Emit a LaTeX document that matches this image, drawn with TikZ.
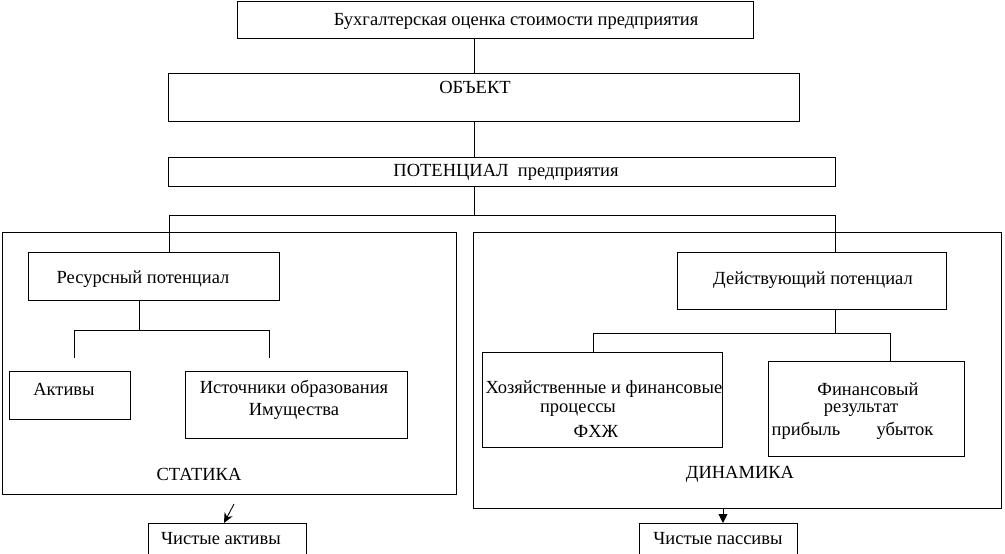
\documentclass[tikz,border=0pt]{standalone}
\usepackage{fontspec}
\setmainfont{Liberation Serif}
\usetikzlibrary{arrows.meta}
\begin{document}
\begin{tikzpicture}[x=1pt,y=-1pt,
  box/.style={draw, line width=0.9pt, inner sep=0pt, anchor=north west},
  txt/.style={inner sep=0pt, font=\fontsize{18.5}{22}\selectfont},
  conn/.style={line width=0.9pt}]
\useasboundingbox (0,0) rectangle (1005,554);
% frames
\node[box, minimum width=454pt, minimum height=262pt] (stat) at (2,232) {};
\node[box, minimum width=528pt, minimum height=276pt] (dyn) at (473,232) {};
% top chain
\node[box, minimum width=516pt, minimum height=37pt] (top) at (237,1) {};
\node[txt] (ttop) at (516,21) {Бухгалтерская оценка стоимости предприятия};
\node[box, minimum width=631pt, minimum height=48pt] (obj) at (168,73) {};
\node[txt] (tobj) at (475,87) {ОБЪЕКТ};
\node[box, minimum width=667pt, minimum height=29pt] (pot) at (168,157) {};
\node[txt] (tpot) at (506,172) {ПОТЕНЦИАЛ\ \ предприятия};
% left side
\node[box, minimum width=251pt, minimum height=48pt] (res) at (28,252) {};
\node[txt] (tres) at (143,279) {Ресурсный потенциал};
\node[box, minimum width=121pt, minimum height=48pt] (akt) at (9,371) {};
\node[txt] (takt) at (64,389) {Активы};
\node[box, minimum width=222pt, minimum height=67pt] (ist) at (185,371) {};
\node[txt, align=center] (tist) at (294,400) {Источники образования\\Имущества};
\node[txt] (tstat) at (199,474) {СТАТИКА};
\node[box, minimum width=158pt, minimum height=32pt] (ca) at (148,523) {};
\node[txt] (tca) at (221,539) {Чистые активы};
% right side
\node[box, minimum width=269pt, minimum height=57pt] (dact) at (677,252) {};
\node[txt] (tdact) at (813,280) {Действующий потенциал};
\node[box, minimum width=240pt, minimum height=95pt] (hoz) at (482,352) {};
\node[txt] (thoz1) at (604,389) {Хозяйственные и финансовые};
\node[txt] (thoz2) at (578,410) {процессы};
\node[txt] (thoz3) at (596,431) {ФХЖ};
\node[box, minimum width=196pt, minimum height=95pt] (fin) at (768,361) {};
\node[txt] (tfin1) at (868,389) {Финансовый};
\node[txt] (tfin2) at (861,410) {результат};
\node[txt] (tfin3) at (806,431) {прибыль};
\node[txt] (tfin4) at (905,431) {убыток};
\node[txt] (tdyn) at (740,474) {ДИНАМИКА};
\node[box, minimum width=158pt, minimum height=32pt] (cp) at (639,523) {};
\node[txt] (tcp) at (718,539) {Чистые пассивы};
% connectors
\coordinate (cx) at (474,0);
\draw[conn] (top.south -| cx) -- (obj.north -| cx);
\draw[conn] (obj.south -| cx) -- (pot.north -| cx);
\coordinate (j) at (474,215);
\coordinate (cl) at (169,215);
\coordinate (cr) at (835,215);
\draw[conn] (pot.south -| cx) -- (j);
\draw[conn] (res.north -| cl) -- (cl) -- (cr) -- (dact.north -| cr);
% left tree
\coordinate (rj) at (139,330);
\coordinate (ra) at (74,330);
\coordinate (ri) at (269,330);
\coordinate (rae) at (74,358);
\coordinate (rie) at (269,358);
\draw[conn] (res.south -| rj) -- (rj);
\draw[conn] (rae) -- (ra) -- (ri) -- (rie);
% right tree
\coordinate (dj) at (835,333);
\coordinate (dl) at (593,333);
\coordinate (dr) at (890,333);
\draw[conn] (dact.south -| dj) -- (dj);
\draw[conn] (hoz.north -| dl) -- (dl) -- (dr) -- (fin.north -| dr);
% arrows
\coordinate (la) at (234,504);
\coordinate (lt) at (224,0);
\draw[conn, -{Stealth[length=10pt,width=9pt]}] (la) -- (ca.north -| lt);
\coordinate (rt) at (723,0);
\draw[conn, -{Triangle[length=9pt,width=9pt]}] (dyn.south -| rt) -- (cp.north -| rt);
\end{tikzpicture}
\end{document}
